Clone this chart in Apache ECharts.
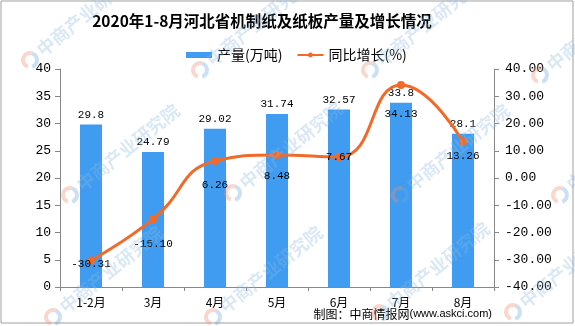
<!DOCTYPE html>
<html>
<head>
<meta charset="utf-8">
<script src="https://cdn.jsdelivr.net/npm/echarts@6/dist/echarts.min.js"></script>
<style>
  html, body { margin: 0; padding: 0; background: #fff; }
  #chart { width: 575px; height: 326px; }
</style>
</head>
<body>
<div id="chart"></div>
<script>
// Monthly paper & paperboard output in Hebei, Jan–Aug 2020
const months = ['1-2月', '3月', '4月', '5月', '6月', '7月', '8月'];
const output = [29.8, 24.79, 29.02, 31.74, 32.57, 33.8, 28.1];          // 万吨
const growth = [-30.31, -15.10, 6.26, 8.48, 7.67, 34.13, 13.26];        // %
const growthLabels = ['-30.31', '-15.10', '6.26', '8.48', '7.67', '34.13', '13.26'];

// vertical nudge for each growth label, in px below its point
const growthLabelDy = [3, 25, 24, 21, 0, 29, 14];

const numFont = '"Liberation Mono", "DejaVu Sans Mono", monospace';
const cjkFont = '"Noto Sans CJK SC", "Noto Sans", sans-serif';

// faint brand stamps tiled across the canvas
const stampAnchors = [
  [30, 60], [200, 70], [370, 70], [540, 75],
  [70, 195], [233, 193], [400, 195], [560, 195],
  [53, 317], [213, 317], [380, 313], [513, 312]
];
const stamps = [];
stampAnchors.forEach(([x, y]) => {
  stamps.push({
    type: 'arc', silent: true, z: 100,
    shape: { cx: x, cy: y, r: 7, startAngle: Math.PI * 0.6, endAngle: Math.PI * 1.6 },
    style: { stroke: 'rgba(240,140,110,0.35)', lineWidth: 4, fill: null }
  });
  stamps.push({
    type: 'arc', silent: true, z: 100,
    shape: { cx: x, cy: y, r: 7, startAngle: Math.PI * 1.6, endAngle: Math.PI * 2.4 },
    style: { stroke: 'rgba(110,165,220,0.35)', lineWidth: 4, fill: null }
  });
  stamps.push({
    type: 'text', silent: true, z: 100,
    x: x + 9, y: y - 8, rotation: 0.68,
    style: {
      text: '中商产业研究院', fill: 'rgba(140,185,225,0.32)',
      font: 'bold 18px ' + cjkFont, textVerticalAlign: 'middle'
    }
  });
});

const chart = echarts.init(document.getElementById('chart'), null, { renderer: 'canvas' });

chart.setOption({
  backgroundColor: '#fff',
  animation: false,
  legend: {
    left: 181, top: 43,
    itemWidth: 26, itemHeight: 6, itemGap: 14,
    textStyle: { fontFamily: cjkFont, fontSize: 14, color: '#000' },
    data: [
      { name: '产量(万吨)', icon: 'rect' },
      { name: '同比增长(%)' }
    ]
  },
  grid: { left: 60, right: 81, top: 69, bottom: 39, containLabel: false },
  xAxis: {
    type: 'category',
    data: months,
    axisLine: { lineStyle: { color: '#888' } },
    axisTick: { show: true, alignWithLabel: false, length: 4, lineStyle: { color: '#888' } },
    axisLabel: { color: '#000', fontFamily: cjkFont, fontSize: 12, margin: 9 }
  },
  yAxis: [
    {
      type: 'value', min: 0, max: 40, interval: 5,
      axisLine: { show: true, lineStyle: { color: '#888' } },
      axisTick: { show: true, length: 5, lineStyle: { color: '#888' } },
      splitLine: { show: false },
      axisLabel: { color: '#000', fontFamily: numFont, fontSize: 13, margin: 9 }
    },
    {
      type: 'value', min: -40, max: 40, interval: 10,
      axisLine: { show: true, lineStyle: { color: '#888' } },
      axisTick: { show: true, length: 5, lineStyle: { color: '#888' } },
      splitLine: { show: false },
      axisLabel: {
        color: '#000', fontFamily: numFont, fontSize: 13, margin: 11,
        formatter: v => v.toFixed(2)
      }
    }
  ],
  series: [
    {
      name: '产量(万吨)',
      type: 'bar',
      data: output,
      barWidth: 22,
      itemStyle: { color: '#3f9cf0' },
      label: {
        show: true, position: 'top', distance: 4,
        color: '#000', fontFamily: numFont, fontSize: 11
      }
    },
    {
      name: '同比增长(%)',
      type: 'line',
      yAxisIndex: 1,
      smooth: 0.5,
      data: growth.map((v, i) => ({
        value: v,
        label: { offset: [0, growthLabelDy[i]], formatter: growthLabels[i] }
      })),
      symbol: 'circle',
      symbolSize: 8,
      lineStyle: { color: '#f26a2a', width: 3 },
      itemStyle: { color: '#f26a2a' },
      label: {
        show: true, position: 'inside',
        color: '#000', fontFamily: numFont, fontSize: 11
      },
      z: 3
    }
  ],
  graphic: [
    {
      type: 'rect', silent: true, z: 0,
      shape: { x: 1, y: 1, width: 572, height: 322 },
      style: { fill: null, stroke: '#a0a0a0', lineWidth: 1 }
    },
    {
      type: 'text', left: null, x: 262, y: 21,
      style: {
        text: '2020年1-8月河北省机制纸及纸板产量及增长情况',
        font: 'bold 15.5px ' + cjkFont, fill: '#000',
        textAlign: 'center', textVerticalAlign: 'middle'
      }
    },
    {
      type: 'text', x: 492, y: 314,
      style: {
        text: '{a|制图：中商情报网}{b|(www.askci.com)}',
        textAlign: 'right', textVerticalAlign: 'middle',
        rich: {
          a: { font: '12px ' + cjkFont, fill: '#000' },
          b: { font: '11px "Liberation Sans", Arial, sans-serif', fill: '#000' }
        }
      }
    }
  ].concat(stamps)
});
</script>
</body>
</html>
